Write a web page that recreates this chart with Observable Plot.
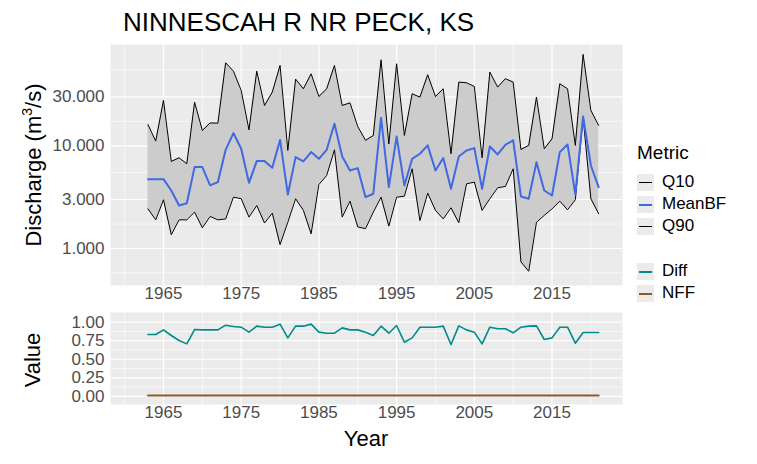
<!DOCTYPE html>
<html><head><meta charset="utf-8">
<script src="https://cdn.jsdelivr.net/npm/d3@7"></script>
<script src="https://cdn.jsdelivr.net/npm/@observablehq/plot@0.6"></script>
<style>
body{margin:0;background:#fff;font-family:Arial,"Liberation Sans",sans-serif;}
#wrap{position:relative;width:757px;height:464px;}
.abs{position:absolute;white-space:nowrap;}
.key{position:absolute;width:17px;height:17px;background:#ebebeb;}
.key i{position:absolute;left:2px;right:2px;top:8px;height:1.5px;}
.lt{position:absolute;font-size:17px;color:#000;}
</style></head><body>
<div id="wrap">
<div id="topc" class="abs" style="left:0;top:0"></div>
<div id="botc" class="abs" style="left:0;top:300px"></div>
<div class="abs" style="left:123px;top:7px;font-size:26px;">NINNESCAH R NR PECK, KS</div>
<div class="abs" style="left:33px;top:165px;font-size:22px;transform:translate(-50%,-50%) rotate(-90deg);">Discharge (m<sup style="font-size:14px">3</sup>/s)</div>
<div class="abs" style="left:33px;top:360px;font-size:22px;transform:translate(-50%,-50%) rotate(-90deg);">Value</div>
<div class="abs" style="left:366px;top:426px;font-size:22px;transform:translateX(-50%);">Year</div>
<div class="abs" style="left:637px;top:142px;font-size:19px;">Metric</div>
<div id="leg"></div>
</div>
<script>
const years = d3.range(1963, 2022);
const q90 = [16.1,11.1,27.7,7.04,7.64,6.68,26.6,14.1,16.7,16.6,64.3,53.3,34.6,14.3,53.3,24.7,33.3,60.6,9.01,44.6,35.9,50.2,30.2,35.9,60.6,24.7,26.2,15.4,11.3,12.6,68.8,10.4,62.9,12.6,32.1,29.8,49.2,30.2,35.9,8.36,41.7,41.1,37.8,7.64,52.2,37.3,45.0,41.7,9.21,10.1,29.8,9.35,11.7,40.2,35.9,10.1,77.6,22.1,15.8];
const meanBF = [4.73,4.73,4.73,3.67,2.62,2.76,6.20,6.20,4.11,4.43,9.14,13.3,9.35,4.36,7.09,7.09,6.11,11.4,3.36,7.76,7.04,8.68,7.47,9.14,16.4,7.87,5.75,6.06,3.16,3.41,18.7,3.96,12.3,4.11,7.47,8.36,10.1,5.75,7.59,3.81,7.87,9.01,9.49,3.81,9.85,8.23,10.2,11.3,3.21,3.05,6.93,3.67,3.28,8.68,10.3,3.36,19.3,6.43,3.96];
const q10 = [2.43,1.90,2.98,1.36,1.90,1.90,2.26,1.59,2.05,1.90,1.94,3.16,3.05,2.02,2.62,1.77,2.21,1.09,1.80,3.05,2.35,1.39,4.20,5.14,9.14,2.02,2.89,1.62,1.56,2.26,3.16,1.65,3.16,3.23,5.97,1.87,3.46,2.35,1.94,2.49,1.78,4.26,4.43,2.35,3.05,3.90,4.02,5.97,0.74,0.60,1.80,2.10,2.43,2.89,2.38,2.98,19.0,3.05,2.18];
const diff = [0.833,0.833,0.896,0.82,0.752,0.707,0.90,0.896,0.896,0.896,0.959,0.941,0.932,0.865,0.946,0.932,0.932,0.973,0.788,0.946,0.946,0.973,0.865,0.851,0.851,0.923,0.896,0.896,0.865,0.82,0.946,0.851,0.955,0.73,0.788,0.932,0.932,0.932,0.946,0.698,0.95,0.896,0.865,0.707,0.932,0.910,0.910,0.856,0.932,0.946,0.95,0.766,0.788,0.932,0.932,0.716,0.860,0.860,0.860];
const nff = years.map(() => 0.01);
const xMajor = [1965,1975,1985,1995,2005,2015];
const xMinor = [1960,1970,1980,1990,2000,2010,2020];
const yMajor = [1,3,10,30];
const yMinor = [0.58,1.73,5.48,17.3,54.8];
const bMajor = [0,0.25,0.5,0.75,1];
const bMinor = [0.125,0.375,0.625,0.875];

const rows = years.map((y,i)=>({year:y,q90:q90[i],mean:meanBF[i],q10:q10[i],diff:diff[i],nff:nff[i]}));
const xdom = [1958.18, 2024.07];
const tickStyle = {fontSize:"17px", fill:"#4d4d4d"};

const topPlot = Plot.plot({
  width:757, height:300, marginLeft:110, marginRight:135, marginTop:44, marginBottom:15,
  style:{fontFamily:"Arial, 'Liberation Sans', sans-serif", overflow:"visible"},
  x:{domain:xdom, axis:null},
  y:{type:"log", domain:[0.436, 96.9], axis:null},
  marks:[
    Plot.frame({fill:"#ebebeb", stroke:null}),
    Plot.ruleY(yMinor,{stroke:"#fff", strokeWidth:0.6}),
    Plot.ruleX(xMinor,{stroke:"#fff", strokeWidth:0.6}),
    Plot.ruleY(yMajor,{stroke:"#fff", strokeWidth:1.2}),
    Plot.ruleX(xMajor,{stroke:"#fff", strokeWidth:1.2}),
    Plot.areaY(rows,{x:"year", y1:"q10", y2:"q90", fill:"#cccccc"}),
    Plot.line(rows,{x:"year", y:"q90", stroke:"#000", strokeWidth:1}),
    Plot.line(rows,{x:"year", y:"q10", stroke:"#000", strokeWidth:1}),
    Plot.line(rows,{x:"year", y:"mean", stroke:"#4169E1", strokeWidth:2}),
    Plot.text(yMajor,{y:d=>d, frameAnchor:"left", dx:-6, textAnchor:"end", text:d=>d3.format(".3f")(d), ...tickStyle}),
    Plot.text(xMajor,{x:d=>d, frameAnchor:"bottom", dy:13, text:d=>String(d), ...tickStyle})
  ]
});
document.getElementById("topc").appendChild(topPlot);

const botPlot = Plot.plot({
  width:757, height:164, marginLeft:110, marginRight:135, marginTop:12, marginBottom:60,
  style:{fontFamily:"Arial, 'Liberation Sans', sans-serif", overflow:"visible"},
  x:{domain:xdom, axis:null},
  y:{domain:[-0.11,1.13], axis:null},
  marks:[
    Plot.frame({fill:"#ebebeb", stroke:null}),
    Plot.ruleY(bMinor,{stroke:"#fff", strokeWidth:0.6}),
    Plot.ruleX(xMinor,{stroke:"#fff", strokeWidth:0.6}),
    Plot.ruleY(bMajor,{stroke:"#fff", strokeWidth:1.2}),
    Plot.ruleX(xMajor,{stroke:"#fff", strokeWidth:1.2}),
    Plot.line(rows,{x:"year", y:"diff", stroke:"#008B8B", strokeWidth:1.6}),
    Plot.line(rows,{x:"year", y:"nff", stroke:"#8B5A2B", strokeWidth:2}),
    Plot.text(bMajor,{y:d=>d, frameAnchor:"left", dx:-6, textAnchor:"end", text:d=>d3.format(".2f")(d), ...tickStyle}),
    Plot.text(xMajor,{x:d=>d, frameAnchor:"bottom", dy:13, text:d=>String(d), ...tickStyle})
  ]
});
document.getElementById("botc").appendChild(botPlot);

const legItems = [["Q10","#000",1,174],["MeanBF","#4169E1",2,196],["Q90","#000",1,218],["Diff","#008B8B",2,263],["NFF","#8B5A2B",2,285]];
const leg = document.getElementById("leg");
legItems.forEach(([t,c,w,y])=>{
  leg.insertAdjacentHTML("beforeend",
   `<div class="key" style="left:637px;top:${y}px"><i style="background:${c};height:${w}px"></i></div>
    <div class="lt" style="left:662px;top:${y-2}px">${t}</div>`);
});
</script>
</body></html>
